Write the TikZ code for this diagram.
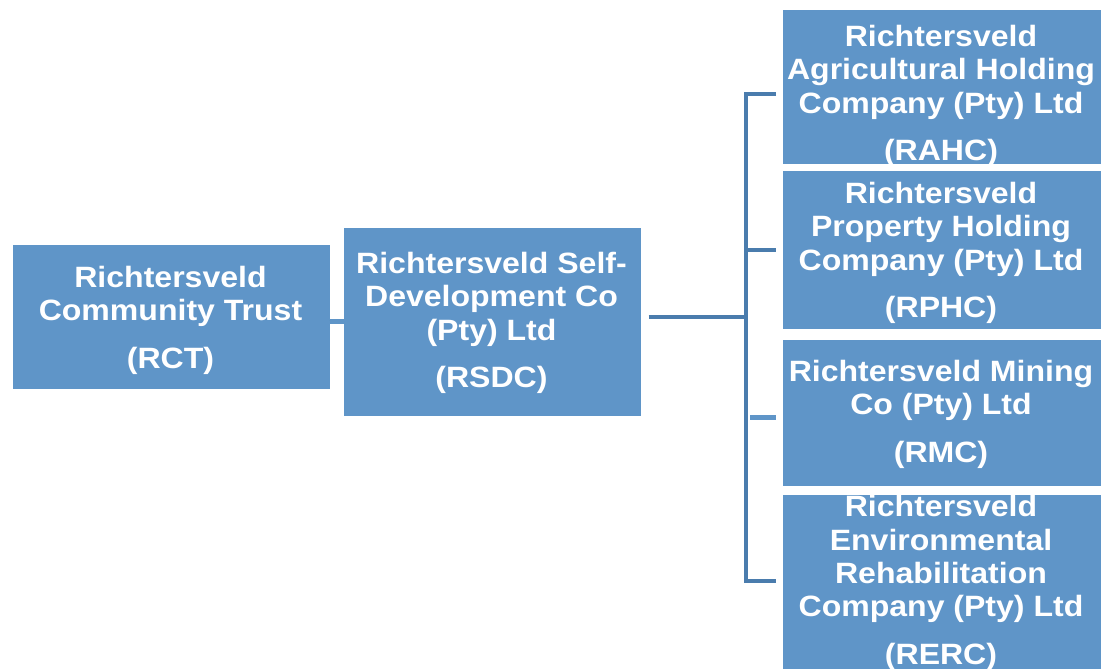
\documentclass[tikz,border=0pt]{standalone}
\usepackage{fontspec}
\setmainfont{Liberation Sans}[FakeStretch=1.09]
\definecolor{boxblue}{RGB}{95,149,200}
\definecolor{linkblue}{RGB}{74,124,173}
\begin{document}
\begin{tikzpicture}[x=1bp,y=-1bp]
\def\spinex{746}; %x of the vertical bracket
\def\gapL{5bp}; %gap between a branch end and its box
\def\gapR{6bp}; %gap after the RSDC box
\def\lastgap{14.5pt}; %extra space above the abbreviation

\tikzstyle{unit} = [rectangle, draw=white, line width=1.5bp, fill=boxblue, inner sep=0mm, anchor=north west]
\tikzstyle{unittext} = [text=white, font=\bfseries\fontsize{29.5}{33.5}\selectfont, align=center, inner sep=0mm]
\tikzstyle{link} = [draw=linkblue, line width=4bp]
\tikzstyle{stub} = [draw=boxblue, line width=5bp]
\tikzstyle{stubshadow} = [draw=black, opacity=0.25, line width=4bp]

\useasboundingbox (0,0) rectangle (1101,669);
\clip (0,0) rectangle (1101,669);

% boxes: name/left/top/width/height
\foreach \nm/\x/\y/\w/\h in {rct/11/243/319/146, rsdc/342/226/299/190,
  rahc/781/9/320/155, rphc/781/170/320/159, rmc/781/338/320/148, rerc/781/493/320/190}{
 \node[unit, minimum width=\w bp, minimum height=\h bp] (\nm) at (\x,\y) {};
}

\node[unittext] (rcttxt) at (170.5,320) {Richtersveld\\Community Trust\\[\lastgap](RCT)};
\node[unittext] (rsdctxt) at (491.5,323) {Richtersveld Self-\\Development Co\\(Pty) Ltd\\[\lastgap](RSDC)};
\node[unittext] (rahctxt) at (941,96) {Richtersveld\\Agricultural Holding\\Company (Pty) Ltd\\[\lastgap](RAHC)};
\node[unittext] (rphctxt) at (941,253) {Richtersveld\\Property Holding\\Company (Pty) Ltd\\[\lastgap](RPHC)};
\node[unittext] (rmctxt) at (941,414) {Richtersveld Mining\\Co (Pty) Ltd\\[\lastgap](RMC)};
\node[unittext] (rerctxt) at (941,583) {Richtersveld\\Environmental\\Rehabilitation\\Company (Pty) Ltd\\[\lastgap](RERC)};

% junctions on the bracket
\coordinate (hub) at (\spinex,317);
\coordinate (jahc) at (\spinex,94);
\coordinate (jphc) at (\spinex,250);
\coordinate (jmc) at (\spinex,417);
\coordinate (jerc) at (\spinex,581);

% RCT -> RSDC
\draw[stubshadow, shift={(0,3)}] ([xshift=-2bp]rct.east |- rsdc.west) -- ([xshift=3bp]rsdc.west);
\draw[stub] ([xshift=-2bp]rct.east |- rsdc.west) -- ([xshift=3bp]rsdc.west);

% RSDC -> subsidiaries
\draw[link] ([xshift=\gapR]rsdc.east |- hub) -- (hub);
\draw[link] ([xshift=-\gapL]rahc.west |- jahc) -- (jahc) -- (jerc) -- ([xshift=-\gapL]rerc.west |- jerc);
\draw[link] (jphc) -- ([xshift=-\gapL]rphc.west |- jphc);
\draw[stubshadow, shift={(0,3)}] ([xshift=4bp]jmc) -- ([xshift=-\gapL]rmc.west |- jmc);
\draw[stub] ([xshift=4bp]jmc) -- ([xshift=-\gapL]rmc.west |- jmc);

\end{tikzpicture}
\end{document}
